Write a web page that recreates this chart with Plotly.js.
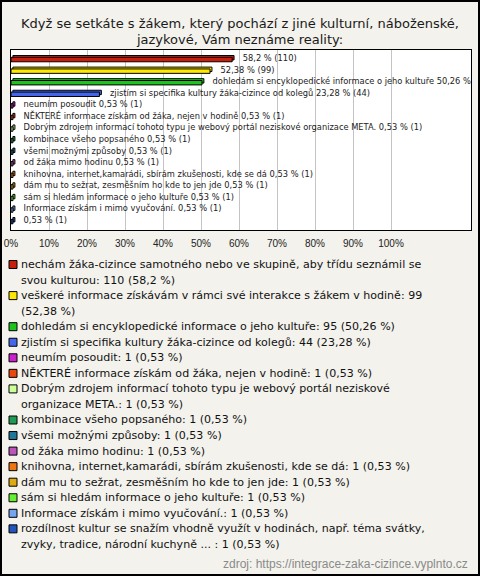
<!DOCTYPE html>
<html><head><meta charset="utf-8">
<script src="https://cdn.plot.ly/plotly-3.0.1.min.js"></script>
<style>html,body{margin:0;padding:0;background:#f3f2ec}</style>
</head><body><div id="chart" style="width:480px;height:576px"></div>
<script>
const categories = [
  'nechám žáka-cizince samotného nebo ve skupině, aby třídu seznámil se svou kulturou',
  'veškeré informace získávám v rámci své interakce s žákem v hodině',
  'dohledám si encyklopedické informace o jeho kultuře',
  'zjistím si specifika kultury žáka-cizince od kolegů',
  'neumím posoudit',
  'NĚKTERÉ informace získám od žáka, nejen v hodině',
  'Dobrým zdrojem informací tohoto typu je webový portál neziskové organizace META.',
  'kombinace všeho popsaného',
  'všemi možnými způsoby',
  'od žáka mimo hodinu',
  'knihovna, internet,kamarádi, sbírám zkušenosti, kde se dá',
  'dám mu to sežrat, zesměšním ho kde to jen jde',
  'sám si hledám informace o jeho kultuře',
  'Informace získám i mimo vyučování.',
  'rozdílnost kultur se snažím vhodně využít v hodinách, např. téma svátky, zvyky, tradice, národní kuchyně ... '
];
const counts = [110, 99, 95, 44, 1, 1, 1, 1, 1, 1, 1, 1, 1, 1, 1];
const percents = [58.2, 52.38, 50.26, 23.28, 0.53, 0.53, 0.53, 0.53, 0.53, 0.53, 0.53, 0.53, 0.53, 0.53, 0.53];
const barNames = [
  '', '',
  'dohledám si encyklopedické informace o jeho kultuře',
  'zjistím si specifika kultury žáka-cizince od kolegů',
  'neumím posoudit',
  'NĚKTERÉ informace získám od žáka, nejen v hodině',
  'Dobrým zdrojem informací tohoto typu je webový portál neziskové organizace META.',
  'kombinace všeho popsaného',
  'všemi možnými způsoby',
  'od žáka mimo hodinu',
  'knihovna, internet,kamarádi, sbírám zkušenosti, kde se dá',
  'dám mu to sežrat, zesměšním ho kde to jen jde',
  'sám si hledám informace o jeho kultuře',
  'Informace získám i mimo vyučování.',
  ''
];
const colors = ['#c81e0e', '#ffe800', '#1ec31e', '#4466ee', '#cc22cc', '#e84810', '#ccff99', '#1f9955',
  '#227799', '#bb55bb', '#ee7711', '#ddaa11', '#66ee33', '#77a4ee', '#2255bb'];
const tickValues = [0, 10, 20, 30, 40, 50, 60, 70, 80, 90, 100];
const tickLabels = ['0%', '10%', '20%', '30%', '40%', '50%', '60%', '70%', '80%', '90%', '100%'];
const titleText = 'Když se setkáte s žákem, který pochází z jiné kulturní, náboženské,<br>jazykové, Vám neznáme reality:';
const sourceText = 'zdroj: https://integrace-zaka-cizince.vyplnto.cz';

const fmt = p => String(p).replace('.', ',');
const PAD = '\u00a0\u00a0\u00a0\u00a0';
const barLabels = percents.map((p, i) => PAD + (barNames[i] ? barNames[i] + ' ' : '') + fmt(p) + ' % (' + counts[i] + ')');

// plot area in pixels
const L = 11, R = 471, T = 50, B = 230, W = 480, H = 576;
const px = x => (x - L) / (R - L);
const py = y => (B - y) / (B - T);

function wrap(s, n) {
  const words = s.split(' ');
  const lines = []; let cur = '';
  for (const w of words) {
    const cand = cur === '' ? w : cur + ' ' + w;
    if (cand.length > n && cur !== '') { lines.push(cur); cur = w; } else cur = cand;
  }
  lines.push(cur);
  return lines;
}

const FONT = 'Liberation Sans, Arial, sans-serif';
const DFONT = 'DejaVu Sans, sans-serif';
const annotations = [];
const shapes = [];
let line = 0;
const lineY0 = 264.5, pitch = 15.55;
categories.forEach((c, i) => {
  const lines = wrap(c + ': ' + counts[i] + ' (' + fmt(percents[i]) + ' %)', 72);
  lines.forEach((t, j) => {
    annotations.push({
      xref: 'paper', yref: 'paper', x: px(19), y: py(lineY0 + pitch * (line + j)), xanchor: 'left', yanchor: 'middle',
      text: t, showarrow: false, align: 'left',
      font: {family: DFONT, size: 11.05, color: '#111'}
    });
  });
  const yl = lineY0 + pitch * line;
  shapes.push({type: 'rect', xref: 'paper', yref: 'paper', x0: px(9), x1: px(17), y0: py(yl - 4), y1: py(yl + 4),
    fillcolor: colors[i], line: {color: '#000', width: 1}});
  line += lines.length;
});
annotations.push({xref: 'paper', yref: 'paper', x: px(470), y: py(564), xanchor: 'right', yanchor: 'middle',
  text: sourceText, showarrow: false, font: {family: FONT, size: 12, color: '#8a8a8a'}});
shapes.push({type: 'rect', xref: 'paper', yref: 'paper', x0: px(1), x1: px(479), y0: py(1), y1: py(575),
  line: {color: '#000', width: 2}, fillcolor: 'rgba(0,0,0,0)', layer: 'above'});

const traces = [
  {type: 'bar', orientation: 'h', y: categories, x: percents, base: 0.5, width: 0.38, offset: -0.30,
   marker: {color: colors, line: {color: '#000', width: 1}}, hoverinfo: 'skip'},
  {type: 'bar', orientation: 'h', y: categories, x: percents, width: 0.38, offset: -0.14,
   marker: {color: colors, line: {color: '#000', width: 1}}, hoverinfo: 'skip'},
  {type: 'scatter', mode: 'text', y: categories, x: percents, text: barLabels, textposition: 'middle right',
   textfont: {family: DFONT, size: 8.3, color: '#222'}, cliponaxis: true, hoverinfo: 'skip'}
];

const layout = {
  width: W, height: H,
  margin: {l: L, r: W - R, t: T, b: H - B, pad: 0},
  paper_bgcolor: '#f3f2ec', plot_bgcolor: '#ffffff',
  showlegend: false, barmode: 'overlay',
  title: {text: titleText, font: {family: DFONT, size: 13, color: '#1a1a1a'}, x: 0.5, xanchor: 'center',
    xref: 'container', yref: 'container', y: 1 - 27.5 / H, yanchor: 'middle'},
  xaxis: {range: [0, (R - L) / 3.8], tickvals: tickValues, ticktext: tickLabels, showgrid: true, gridcolor: '#c4c4c4',
    gridwidth: 1, zeroline: false, showline: true, mirror: true, linecolor: '#000', linewidth: 1, ticks: '',
    tickfont: {family: FONT, size: 10, color: '#222'}, ticklabelstandoff: 4, fixedrange: true},
  yaxis: {type: 'category', autorange: 'reversed', showticklabels: false, showgrid: false, zeroline: false,
    showline: true, mirror: true, linecolor: '#000', linewidth: 1, ticks: '', fixedrange: true},
  annotations: annotations, shapes: shapes
};
Plotly.newPlot('chart', traces, layout, {displayModeBar: false, staticPlot: true});
</script></body></html>
